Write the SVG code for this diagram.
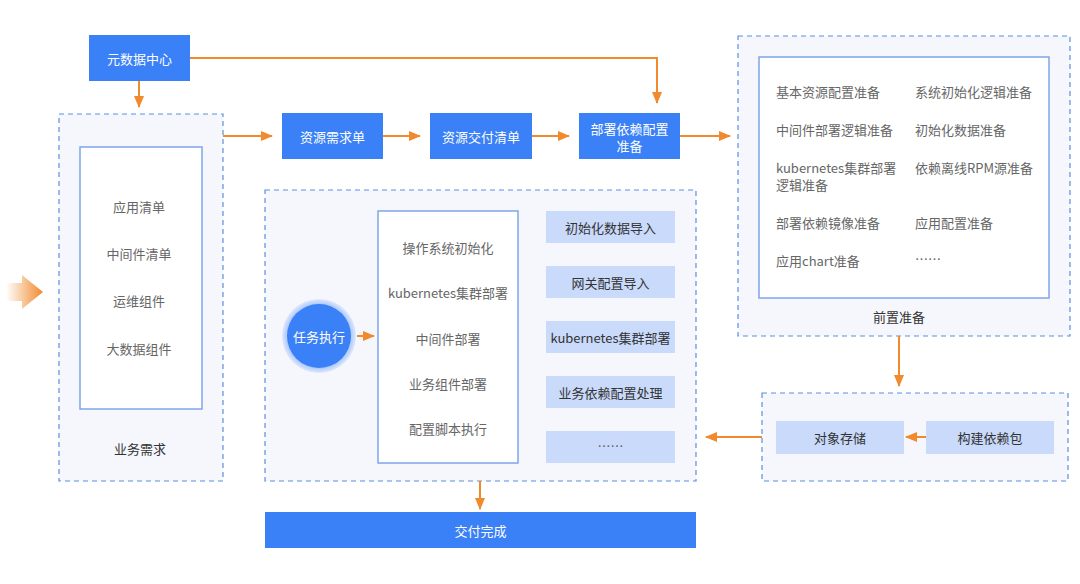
<svg xmlns="http://www.w3.org/2000/svg" width="1080" height="584" viewBox="0 0 1080 584">
<defs>
<marker id="ah" markerWidth="12" markerHeight="10" refX="11" refY="5" orient="auto" markerUnits="userSpaceOnUse">
<path d="M0,0 L12,5 L0,10 Z" fill="#f08a2c"/>
</marker>
<linearGradient id="bg" x1="0" y1="0" x2="1" y2="0">
<stop offset="0" stop-color="#f08a2c" stop-opacity="0"/>
<stop offset="1" stop-color="#f08a2c"/>
</linearGradient>
<radialGradient id="halo">
<stop offset="0.85" stop-color="#a9c6fa"/>
<stop offset="1" stop-color="#dfe9fd"/>
</radialGradient>
</defs>
<style>
text{font-family:"Noto Sans CJK SC","Liberation Sans",sans-serif;font-size:13px;text-anchor:middle;dominant-baseline:central}
.solid{fill:#3a80f6}
.wt{fill:#ffffff}
.gt{fill:#666666}
.dk{fill:#333333}
.dash{fill:#f5f7fd;stroke:#5b8fe0;stroke-width:1.2;stroke-dasharray:5 4}
.inner{fill:#ffffff;stroke:#7fa5ea;stroke-width:1.5}
.lb{fill:#c9dafb}
.c{fill:none;stroke:#f08a2c;stroke-width:2;marker-end:url(#ah)}
.lt{text-anchor:start}
</style>
<rect width="1080" height="584" fill="#ffffff"/>

<g id="big-arrow">
<path d="M6,283 L22,283 L22,275 L43,292 L22,309 L22,301 L6,301 Z" fill="url(#bg)"/>
</g>

<g id="meta">
<rect class="solid" x="89" y="35" width="101" height="46"/>
<text class="wt" x="139.5" y="58">元数据中心</text>
</g>

<g id="biz">
<rect class="dash" x="59" y="114" width="164" height="367"/>
<rect class="inner" x="80" y="147" width="122" height="262"/>
<text class="gt" x="139" y="206">应用清单</text>
<text class="gt" x="139" y="253">中间件清单</text>
<text class="gt" x="139" y="300">运维组件</text>
<text class="gt" x="139" y="348">大数据组件</text>
<text class="dk" x="140" y="448">业务需求</text>
</g>

<g id="req">
<rect class="solid" x="282" y="113" width="101" height="46"/>
<text class="wt" x="332.5" y="136">资源需求单</text>
</g>
<g id="deliver-list">
<rect class="solid" x="430" y="113" width="102" height="46"/>
<text class="wt" x="481" y="136">资源交付清单</text>
</g>
<g id="dep-config">
<rect class="solid" x="579" y="113" width="101" height="46"/>
<text class="wt" x="629.5" y="128">部署依赖配置</text>
<text class="wt" x="629.5" y="145">准备</text>
</g>

<g id="prep">
<rect class="dash" x="738" y="36" width="332" height="300"/>
<rect class="inner" x="759" y="57" width="290" height="241"/>
<text class="gt lt" x="776" y="91">基本资源配置准备</text>
<text class="gt lt" x="915" y="91">系统初始化逻辑准备</text>
<text class="gt lt" x="776" y="129">中间件部署逻辑准备</text>
<text class="gt lt" x="915" y="129">初始化数据准备</text>
<text class="gt lt" x="776" y="167">kubernetes集群部署</text>
<text class="gt lt" x="776" y="184">逻辑准备</text>
<text class="gt lt" x="915" y="167">依赖离线RPM源准备</text>
<text class="gt lt" x="776" y="222">部署依赖镜像准备</text>
<text class="gt lt" x="915" y="222">应用配置准备</text>
<text class="gt lt" x="776" y="260">应用chart准备</text>
<text class="gt lt" x="915" y="258">……</text>
<text class="dk" x="899" y="316">前置准备</text>
</g>

<g id="build">
<rect class="dash" x="762" y="393" width="306" height="88"/>
<rect class="lb" x="776" y="421" width="128" height="33"/>
<text class="dk" x="840" y="437.5">对象存储</text>
<rect class="lb" x="926" y="421" width="128" height="33"/>
<text class="dk" x="990" y="437.5">构建依赖包</text>
</g>

<g id="exec">
<rect class="dash" x="265" y="190" width="431" height="291"/>
<circle cx="319" cy="336" r="37" fill="url(#halo)"/>
<circle cx="319" cy="336" r="32" fill="#3a80f6"/>
<text class="wt" x="319" y="336">任务执行</text>
<rect class="inner" x="378" y="211" width="140" height="252"/>
<text class="gt" x="448" y="247">操作系统初始化</text>
<text class="gt" x="448" y="292">kubernetes集群部署</text>
<text class="gt" x="448" y="338">中间件部署</text>
<text class="gt" x="448" y="383">业务组件部署</text>
<text class="gt" x="448" y="428">配置脚本执行</text>
<rect class="lb" x="546" y="211" width="129" height="32"/>
<text class="dk" x="610.5" y="227">初始化数据导入</text>
<rect class="lb" x="546" y="266" width="129" height="32"/>
<text class="dk" x="610.5" y="282">网关配置导入</text>
<rect class="lb" x="546" y="321" width="129" height="32"/>
<text class="dk" x="610.5" y="337">kubernetes集群部署</text>
<rect class="lb" x="546" y="376" width="129" height="32"/>
<text class="dk" x="610.5" y="392">业务依赖配置处理</text>
<rect class="lb" x="546" y="431" width="129" height="32"/>
<text class="gt" x="610.5" y="445">……</text>
</g>

<g id="done">
<rect class="solid" x="265" y="512" width="431" height="36"/>
<text class="wt" x="480.5" y="530">交付完成</text>
</g>

<g id="connectors">
<path class="c" d="M139,81 V107"/>
<path class="c" d="M190,58 H657 V103"/>
<path class="c" d="M223,136 H272"/>
<path class="c" d="M383,136 H420"/>
<path class="c" d="M532,136 H569"/>
<path class="c" d="M680,136 H730"/>
<path class="c" d="M899,336 V386"/>
<path class="c" d="M926,437 H906"/>
<path class="c" d="M762,437 H706"/>
<path class="c" d="M357,336 H374"/>
<path class="c" d="M480,481 V509"/>
</g>
</svg>
